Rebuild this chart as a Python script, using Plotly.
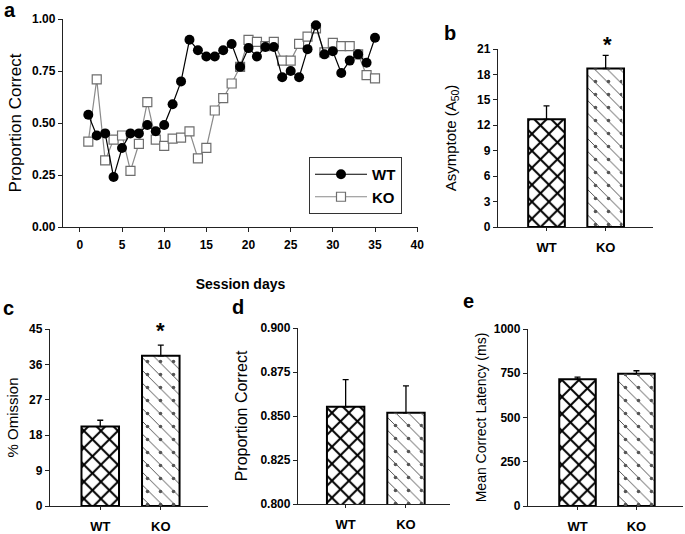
import plotly.graph_objects as go

W, H = 685, 534

# ---------- data ----------
days = list(range(1, 36))
wt_prop = [0.54, 0.44, 0.45, 0.24, 0.38, 0.45, 0.45, 0.49, 0.46, 0.49,
           0.59, 0.70, 0.90, 0.85, 0.82, 0.82, 0.85, 0.88, 0.77, 0.86,
           0.82, 0.865, 0.865, 0.72, 0.75, 0.72, 0.855, 0.97, 0.83, 0.845,
           0.74, 0.80, 0.83, 0.79, 0.91]
ko_prop = [0.41, 0.71, 0.32, 0.42, 0.44, 0.27, 0.40, 0.60, 0.42, 0.39,
           0.425, 0.43, 0.46, 0.33, 0.38, 0.56, 0.62, 0.69, 0.77, 0.90,
           0.89, 0.87, 0.89, 0.80, 0.80, 0.88, 0.915, 0.955, 0.84, 0.885,
           0.87, 0.87, 0.83, 0.73, 0.715]

groups = ["WT", "KO"]
asym_mean = [12.7, 18.7]
asym_err = [1.6, 1.55]
omis_mean = [20.2, 38.2]
omis_err = [1.6, 2.7]
acc_mean = [0.8552, 0.8518]
acc_err = [0.0155, 0.0153]
lat_mean = [716, 747]
lat_err = [12, 17]

x_ticks_a = [0, 5, 10, 15, 20, 25, 30, 35, 40]

FONT = "Liberation Sans, Arial, sans-serif"
AX = "#222222"


def px_x(a, b):
    return [a / W, b / W]


def px_y(top, bottom):
    return [1 - bottom / H, 1 - top / H]


fig = go.Figure()

# ---------- panel a ----------
fig.add_trace(go.Scatter(
    x=days, y=ko_prop, name="KO", mode="lines+markers",
    line=dict(color="#8a8a8a", width=1.2),
    marker=dict(symbol="square", size=9, color="white",
                line=dict(color="#6e6e6e", width=1.2)),
    xaxis="x", yaxis="y", legendrank=2))
fig.add_trace(go.Scatter(
    x=days, y=wt_prop, name="WT", mode="lines+markers",
    line=dict(color="black", width=1.2),
    marker=dict(symbol="circle", size=10, color="black"),
    xaxis="x", yaxis="y", legendrank=1))

# ---------- bar panels ----------
bar_panels = [
    ("x2", "y2", asym_mean, asym_err),
    ("x3", "y3", omis_mean, omis_err),
    ("x4", "y4", acc_mean, acc_err),
    ("x5", "y5", lat_mean, lat_err),
]
bw = 0.62
for xa, ya, m, e in bar_panels:
    fig.add_trace(go.Bar(
        x=groups, y=m, xaxis=xa, yaxis=ya, width=bw, showlegend=False,
        marker=dict(color="white", line=dict(color="black", width=2),
                    pattern=dict(shape=["x", "\\"],
                                 fgcolor=["black", "#444444"],
                                 bgcolor="white",
                                 size=[12, 9], solidity=[0.3, 0.1])),
        error_y=dict(type="data", symmetric=False, array=e,
                     arrayminus=[0, 0], color="black", thickness=1.3,
                     width=3)))
    fig.add_trace(go.Bar(
        x=[groups[1]], y=[m[1]], xaxis=xa, yaxis=ya, width=bw * 0.9,
        showlegend=False, hoverinfo="skip",
        marker=dict(color="rgba(0,0,0,0)", line=dict(width=0),
                    pattern=dict(shape=".", fgcolor="#555555",
                                 bgcolor="rgba(0,0,0,0)", size=13,
                                 solidity=0.06))))

tickfont = dict(family=FONT, size=12, color="black", weight="bold")
catfont = dict(family=FONT, size=13, color="black", weight="bold")


def yax(dom_y, rng, dtick, fmt, title, tsize, anchor, standoff):
    return dict(domain=dom_y, range=rng, dtick=dtick, tick0=rng[0],
                tickformat=fmt, showgrid=False, zeroline=False,
                showline=True, linecolor=AX, linewidth=1.3,
                ticks="outside", ticklen=4, tickcolor=AX, tickwidth=1,
                tickfont=tickfont, anchor=anchor,
                title=dict(text=title, standoff=standoff,
                           font=dict(family=FONT, size=tsize, color="black")))


def xbar(dom, rng, anchor):
    return dict(domain=dom, range=rng, type="category", showgrid=False,
                zeroline=False, showline=True, linecolor=AX, linewidth=1.3,
                ticks="outside", ticklen=3, tickcolor=AX, tickwidth=1,
                tickfont=catfont, ticklabelstandoff=5, anchor=anchor)


fig.update_layout(
    width=W, height=H, template="none",
    margin=dict(l=0, r=0, t=0, b=0),
    paper_bgcolor="white", plot_bgcolor="white",
    barmode="overlay",
    font=dict(family=FONT, color="black"),
    showlegend=True,
    legend=dict(x=309 / W, y=1 - 157 / H, xanchor="left", yanchor="top",
                bordercolor="#333333", borderwidth=1, bgcolor="white",
                font=dict(family=FONT, size=15, color="black", weight="bold"),
                traceorder="normal", itemwidth=52, tracegroupgap=0),
    xaxis=dict(domain=px_x(63, 418), range=[-2.0, 40.1],
               tickvals=x_ticks_a, ticktext=[str(v) for v in x_ticks_a],
               showgrid=False, zeroline=False, showline=True,
               linecolor=AX, linewidth=1.3, ticks="outside", ticklen=4,
               tickcolor=AX, tickfont=tickfont, ticklabelstandoff=2,
               anchor="y",
               title=dict(text="<b>Session days</b>", standoff=28,
                          font=dict(family=FONT, size=14, color="black"))),
    yaxis=yax(px_y(19, 227), [0, 1], 0.25, ".2f",
              "Proportion Correct", 17, "x", 6),
    xaxis2=xbar(px_x(498, 653), [-0.82, 1.8], "y2"),
    yaxis2=yax(px_y(49, 227), [0, 21], 3, "d",
               "Asymptote (A<sub>50</sub>)", 15, "x2", 16),
    xaxis3=xbar(px_x(50, 208), [-0.83, 1.78], "y3"),
    yaxis3=yax(px_y(329, 506), [0, 45], 9, "d",
               "% Omission", 15, "x3", 6),
    xaxis4=xbar(px_x(298, 450), [-0.79, 1.73], "y4"),
    yaxis4=yax(px_y(328, 504), [0.8, 0.9], 0.025, ".3f",
               "Proportion Correct", 16, "x4", 8),
    xaxis5=xbar(px_x(528, 683), [-0.84, 1.79], "y5"),
    yaxis5=yax(px_y(329, 506), [0, 1000], 250, "d",
               "Mean Correct Latency (ms)", 14, "x5", 3),
)

letters = [("a", 2, -3), ("b", 442, 20), ("c", 1, 295), ("d", 230, 294),
           ("e", 461, 288)]
for t, lx, ly in letters:
    fig.add_annotation(text="<b>%s</b>" % t, x=lx / W, y=1 - ly / H,
                       xref="paper", yref="paper", xanchor="left",
                       yanchor="top", showarrow=False,
                       font=dict(family=FONT, size=20, color="black"))

for sx, sy in [(607, 30), (160, 316)]:
    fig.add_annotation(text="<b>*</b>", x=sx / W, y=1 - sy / H,
                       xref="paper", yref="paper", xanchor="center",
                       yanchor="top", showarrow=False,
                       font=dict(family=FONT, size=22, color="black"))

fig.write_html("out.html", config={"displayModeBar": False},
               post_script="document.body.style.margin='0';"
                           "document.body.style.padding='0';")
